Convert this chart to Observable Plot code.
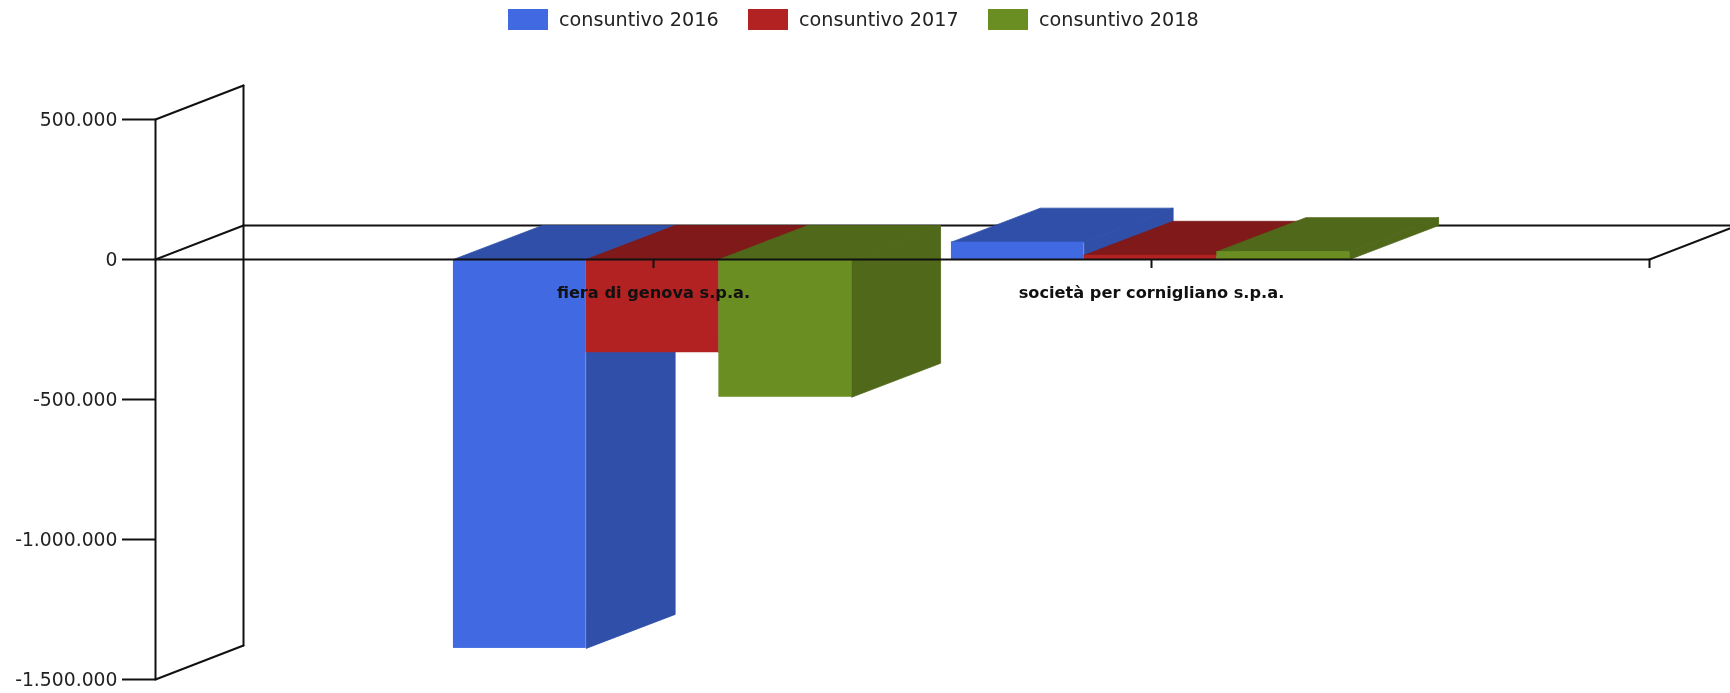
<!DOCTYPE html>
<html>
<head>
<meta charset="utf-8">
<style>
  html, body { margin: 0; padding: 0; background: #fff; overflow: hidden; }
  #legend { position: relative; height: 40px; font: 19.2px "DejaVu Sans", sans-serif; color: #222; filter: blur(0.45px); }
  #legend .sw { position: absolute; top: 9px; width: 40px; height: 21px; }
  #legend .tx { position: absolute; top: 9px; line-height: 22px; white-space: nowrap; }
  #chart svg { filter: blur(0.45px); }
</style>
<script src="https://cdn.jsdelivr.net/npm/d3@7"></script>
<script src="https://cdn.jsdelivr.net/npm/@observablehq/plot@0.6"></script>
</head>
<body>
<div id="legend"></div>
<div id="chart"></div>
<script>
const categories = ["fiera di genova s.p.a.", "società per cornigliano s.p.a."];
const seriesNames = ["consuntivo 2016", "consuntivo 2017", "consuntivo 2018"];
const values2016 = [-1389000, 62000];
const values2017 = [-333000, 15000];
const values2018 = [-492000, 28000];
const frontColors = ["#4169E1", "#B22222", "#6B8E23"];
const shadeColors = ["#2F4FA8", "#801919", "#4F6819"];
const yTicks = [500000, 0, -500000, -1000000, -1500000];
const xTicks = [1, 2, 3];

const seriesValues = [values2016, values2017, values2018];

// depth of the pseudo-3D projection, in scale units
const wallDepthX = 0.1767;
const depthX = 0.1787;
const depthY = 121400;
const barW = 0.2665;
const barShift = -0.002;
const yMin = -1500000, yMax = 500000;

const fmt = d3.formatLocale({decimal: ",", thousands: ".", grouping: [3], currency: ["", ""], minus: "-"}).format(",d");

function poly(points, fill) {
  return Plot.line(points, {x: "0", y: "1", fill, stroke: fill, strokeWidth: 0.8});
}
function wire(points) {
  return Plot.line(points, {x: "0", y: "1", stroke: "#111", strokeWidth: 2});
}

const barMarks = categories.flatMap((cat, c) =>
  seriesNames.flatMap((name, s) => {
    const v = seriesValues[s][c];
    const x0 = c + 1 + barShift + (s - 1.5) * barW, x1 = x0 + barW;
    const top = Math.max(v, 0);
    return [
      // right side face
      poly([[x1, 0], [x1 + depthX, depthY], [x1 + depthX, v + depthY], [x1, v], [x1, 0]], shadeColors[s]),
      // top face
      poly([[x0, top], [x0 + depthX, top + depthY], [x1 + depthX, top + depthY], [x1, top], [x0, top]], shadeColors[s]),
      // front face
      Plot.rect([{x0, x1, v}], {x1: "x0", x2: "x1", y1: () => 0, y2: "v", fill: frontColors[s], inset: 0})
    ];
  })
);

const xEnd = 3;
const chart = Plot.plot({
  width: 1730,
  height: 653,
  marginLeft: 155,
  marginRight: 81,
  marginTop: 79,
  marginBottom: 14,
  x: {domain: [0, xEnd], axis: null},
  y: {domain: [yMin, yMax], axis: null},
  style: {background: "transparent", fontFamily: "'DejaVu Sans', sans-serif"},
  marks: [
    // back walls
    wire([[wallDepthX, yMax + depthY], [wallDepthX, yMin + depthY]]),
    wire([[0, yMax], [wallDepthX, yMax + depthY]]),
    wire([[0, yMin], [wallDepthX, yMin + depthY]]),
    wire([[0, 0], [wallDepthX, depthY]]),
    wire([[wallDepthX, depthY], [xEnd + wallDepthX, depthY]]),
    ...barMarks,
    // front axes
    wire([[0, yMax], [0, yMin]]),
    wire([[0, 0], [xEnd, 0]]),
    wire([[xEnd, 0], [xEnd + wallDepthX, depthY]]),
    Plot.axisY({
      ticks: yTicks, tickFormat: fmt, tickSize: 33, tickPadding: 5,
      stroke: "#111", strokeWidth: 2, fontSize: 18.8, fill: "#222", label: null
    }),
    Plot.ruleX(xTicks, {x: d => d, y1: 0, y2: -32000, stroke: "#111", strokeWidth: 2}),
    Plot.text(categories, {
      x: (d, i) => i + 1, y: () => 0, dy: 33, text: d => d,
      fontWeight: "bold", fontSize: 16.2, fill: "#111"
    })
  ]
});
document.getElementById("chart").appendChild(chart);

const swatchLeft = [508, 748, 988];
const textLeft = [559, 799, 1039];
const legend = document.getElementById("legend");
seriesNames.forEach((name, i) => {
  const sw = document.createElement("div");
  sw.className = "sw"; sw.style.left = swatchLeft[i] + "px"; sw.style.background = frontColors[i];
  const tx = document.createElement("div");
  tx.className = "tx"; tx.style.left = textLeft[i] + "px"; tx.textContent = name;
  legend.append(sw, tx);
});
</script>
</body>
</html>
